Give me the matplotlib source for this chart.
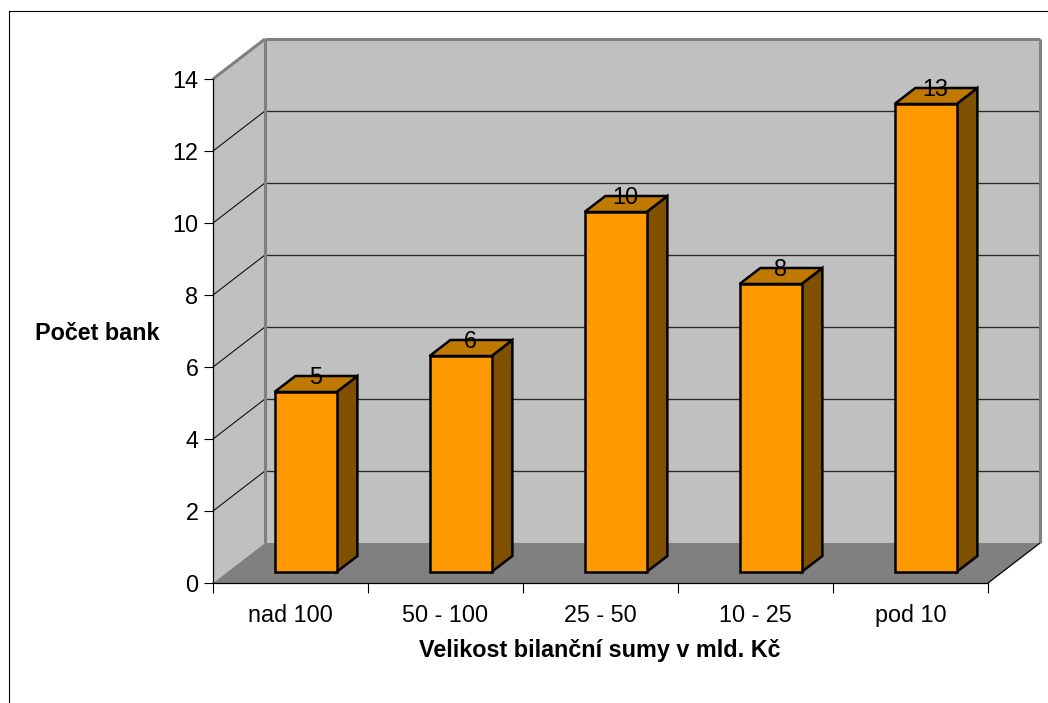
import matplotlib
matplotlib.use("Agg")
import matplotlib.pyplot as plt
from matplotlib.patches import Polygon
from matplotlib.lines import Line2D
from matplotlib.ticker import FixedLocator, FixedFormatter, NullFormatter

categories = ["nad 100", "50 - 100", "25 - 50", "10 - 25", "pod 10"]
values = [5, 6, 10, 8, 13]
y_ticks = [0, 2, 4, 6, 8, 10, 12, 14]
x_title = "Velikost bilanční sumy v mld. Kč"
y_title = "Počet bank"

W, H = 1048, 703
plt.rcParams["font.family"] = ["Liberation Sans", "DejaVu Sans"]
FS = 16.85

fig = plt.figure(figsize=(W / 100, H / 100), dpi=100, facecolor="white")
L, R, T, B = 213, 988, 79, 583
ax = fig.add_axes([L / W, 1 - B / H, (R - L) / W, (B - T) / H])
ax.set_xlim(0, len(categories))
ax.set_ylim(0, 14)
ax.patch.set_visible(False)

# oblique projection: depth z in 0..1 shifts points back and up
DX = 52 / 155
DY = 40 / 36


def P(x, y, z=0.0):
    return (x + DX * z, y + DY * z)


def poly(pts, fc, ec="none", lw=0, zo=1, join="miter"):
    ax.add_patch(Polygon(pts, closed=True, facecolor=fc, edgecolor=ec, linewidth=lw,
                         zorder=zo, clip_on=False, joinstyle=join))


n = len(categories)
top = y_ticks[-1]
# walls and floor
poly([P(0, 0), P(0, 0, 1), P(0, top, 1), P(0, top)], "#C0C0C0")
poly([P(0, 0, 1), P(n, 0, 1), P(n, top, 1), P(0, top, 1)], "#C0C0C0")
poly([P(0, 0), P(n, 0), P(n, 0, 1), P(0, 0, 1)], "#808080")


def line(a, b, color="black", lw=0.8, zo=2):
    ax.add_line(Line2D([a[0], b[0]], [a[1], b[1]], color=color, lw=lw, zorder=zo,
                       clip_on=False, solid_capstyle="butt"))


# gridlines
for t in y_ticks[1:-1]:
    line(P(0, t), P(0, t, 1), "#111111", 0.8)
    line(P(0, t, 1), P(n, t, 1), "#2A2A2A", 0.95)
# wall edges
line(P(0, 0, 1), P(0, top, 1), "#808080", 2.2)
line(P(0, top, 1), P(n, top, 1), "#808080", 2.2)
line(P(n, 0, 1), P(n, top, 1), "#808080", 2.2)
line(P(0, top), P(0, top, 1), "#808080", 2.2)
line(P(n, 0), P(n, 0, 1), "black", 0.9)

# bars
Z0, Z1 = 0.275, 0.675
BW = 0.4
SHIFT = 0.005
for i, v in enumerate(values):
    x0 = i + 0.5 - BW / 2 + SHIFT
    x1 = x0 + BW
    e = dict(ec="black", lw=1.8, zo=3 + i * 0.01)
    poly([P(x1, 0, Z0), P(x1, 0, Z1), P(x1, v, Z1), P(x1, v, Z0)], "#7F5000", **e)
    poly([P(x0, v, Z0), P(x1, v, Z0), P(x1, v, Z1), P(x0, v, Z1)], "#BF7800", **e)
    poly([P(x0, 0, Z0), P(x1, 0, Z0), P(x1, v, Z0), P(x0, v, Z0)], "#FF9900", **e)
    cx, cy = P(i + 0.5, v, (Z0 + Z1) / 2)
    ax.annotate(str(v), (cx, cy), xytext=(0, 4.9), textcoords="offset points",
                ha="center", va="center", fontsize=FS, color="black", zorder=10,
                annotation_clip=False)

# axes
for s in ("top", "right"):
    ax.spines[s].set_visible(False)
for s in ("left", "bottom"):
    ax.spines[s].set_linewidth(0.9)
    ax.spines[s].set_zorder(2.5)
ax.set_yticks(y_ticks)
ax.tick_params(axis="y", length=6.5, width=0.8, pad=4, labelsize=FS)
ax.xaxis.set_major_locator(FixedLocator(list(range(n + 1))))
ax.xaxis.set_major_formatter(NullFormatter())
ax.xaxis.set_minor_locator(FixedLocator([i + 0.5 for i in range(n)]))
ax.xaxis.set_minor_formatter(FixedFormatter(categories))
ax.tick_params(axis="x", which="major", length=7, width=0.8)
ax.tick_params(axis="x", which="minor", length=0, pad=15, labelsize=FS)

ax.set_xlabel(x_title, fontsize=FS, fontweight="bold", va="center")
ax.xaxis.set_label_coords(0.499, (B - 650) / (B - T))
ax.set_ylabel(y_title, fontsize=FS, fontweight="bold", rotation=0, ha="center", va="center")
ax.yaxis.set_label_coords(-0.149, (B - 333) / (B - T))

# outer chart frame, cut by the picture edge
fig.add_artist(Line2D([8.5 / W, 8.5 / W], [0, 1 - 10.5 / H], color="black", lw=0.8))
fig.add_artist(Line2D([8.5 / W, 1], [1 - 10.5 / H, 1 - 10.5 / H], color="black", lw=0.8))

fig.savefig("out.png", dpi=100, facecolor="white")
